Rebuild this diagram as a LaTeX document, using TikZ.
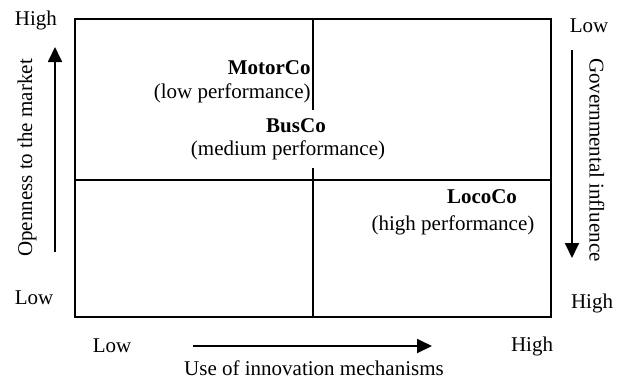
\documentclass[tikz,border=0pt]{standalone}
\usepackage{fontspec}
\setmainfont{Liberation Serif}
\usepackage{tikz}
\usetikzlibrary{arrows.meta,positioning}
\newcommand{\qfont}{\fontsize{10.5}{12.6}\selectfont}

\begin{document}
\begin{tikzpicture}[
  x=0.5pt,y=-0.5pt,
  font=\qfont,
  frame/.style={line width=0.9pt},
  lbl/.style={inner sep=1pt,font=\qfont},
  co/.style={lbl,font=\qfont\bfseries},
  ar/.style={-{Triangle[width=7pt,length=7.5pt]},line width=0.9pt}]

\useasboundingbox (0,0) rectangle (623,382);

% the matrix: frame, middle lines (gap left for BusCo)
\draw[frame] (75,19) rectangle (551,317);
\draw[frame] (75,180) -- (551,180);
\draw[frame] (313,19) -- (313,110) (313,168) -- (313,317);

% firms
\node[co,anchor=east]  (motor)  at (313,68)  {MotorCo};
\node[lbl,anchor=east] (motorp) at (313,93)  {(low performance)};
\node[co]  (bus)   at (296,126) {BusCo};
\node[lbl] (busp)  at (288,150) {(medium performance)};
\node[co]  (loco)  at (482,197) {LocoCo};
\node[lbl] (locop) at (453,225) {(high performance)};

% left axis
\node[lbl] (opHi) at (36,20)  {High};
\node[lbl] (opLo) at (34,298) {Low};
\node[lbl,rotate=90] (op) at (27,158) {Openness to the market};
\coordinate (oB) at (55,252);
\coordinate (oT) at (55,47);

% bottom axis
\node[lbl] (inLo) at (112,346) {Low};
\node[lbl] (inHi) at (532,346) {High};
\node[lbl] (in) at (314,368) {Use of innovation mechanisms};
\coordinate (uL) at (193,346);
\coordinate (uR) at (432,346);

% right axis
\node[lbl] (goLo) at (589,26)  {Low};
\node[lbl] (goHi) at (592,303) {High};
\node[lbl,rotate=-90] (go) at (597,160) {Governmental influence};
\coordinate (gT) at (572,50);
\coordinate (gB) at (572,258);

\foreach \a/\b in {oB/oT, uL/uR, gT/gB} \draw[ar] (\a) -- (\b);
\end{tikzpicture}
\end{document}
